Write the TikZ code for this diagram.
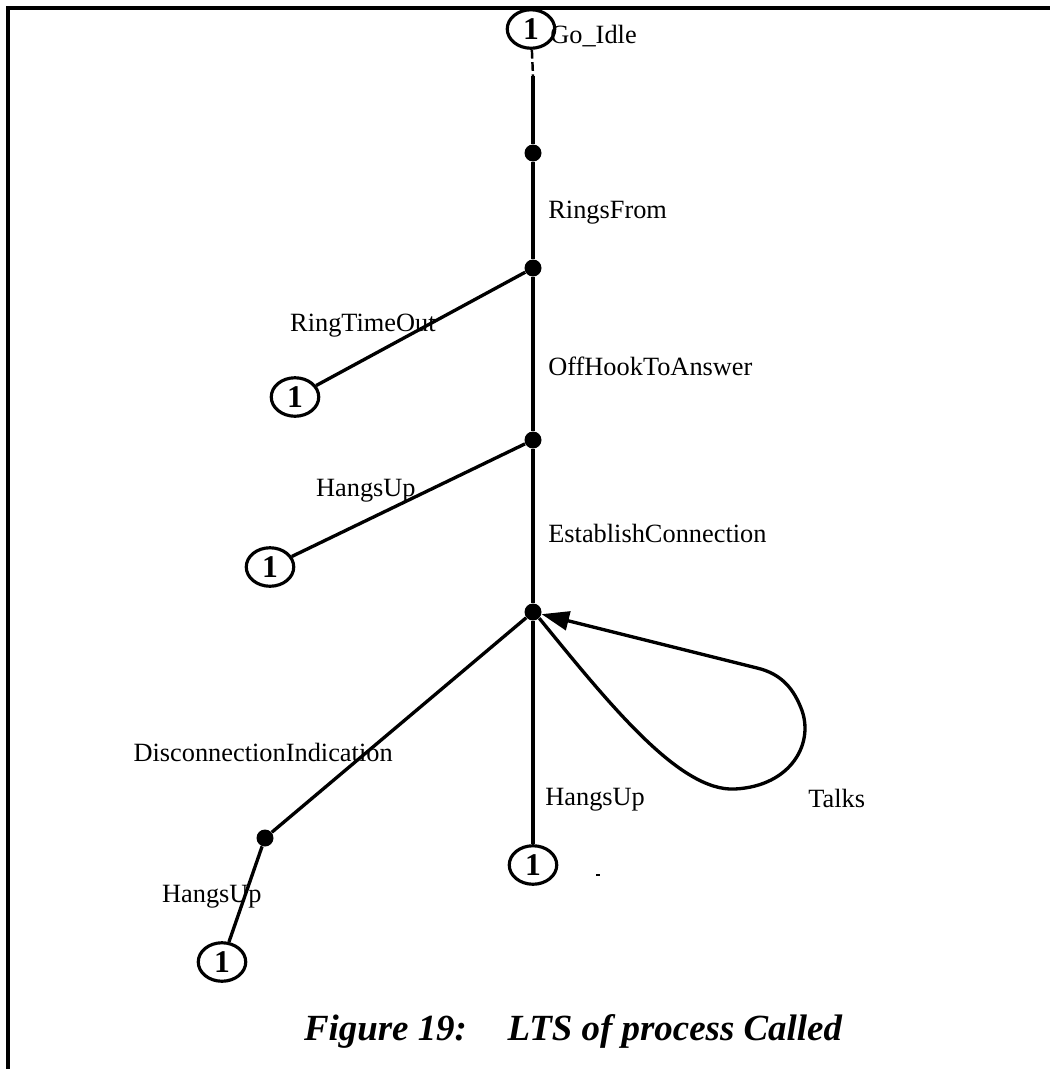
\documentclass[tikz,border=0pt]{standalone}
\usepackage{fontspec}
\setmainfont{Liberation Serif}
\usetikzlibrary{arrows.meta,shapes.geometric}
\begin{document}
\begin{tikzpicture}[x=0.02cm,y=-0.02cm,
  edge/.style={line width=1.9pt},
  state/.style={circle,fill=black,inner sep=0pt,minimum size=0.34cm},
  ref/.style={ellipse,draw,line width=1.8pt,minimum width=0.95cm,minimum height=0.77cm,inner sep=0pt,font=\fontsize{18}{18}\selectfont\bfseries},
  lbl/.style={font=\fontsize{15}{15}\selectfont,inner sep=0pt},
  frame/.style={line width=2.4pt}]
\useasboundingbox (0,0) rectangle (1050,1069);
\draw[frame] (8,1069) -- (8,8) -- (1050,8);
% main spine
\node[ref] (r0) at (531,29) {1};
\node[state] (s1) at (533,153) {};
\node[state] (s2) at (533,268) {};
\node[state] (s3) at (533,440) {};
\node[state] (s4) at (533,612) {};
\node[state] (s5) at (265,838) {};
\node[ref] (r1) at (295,397) {1};
\node[ref] (r2) at (270,567) {1};
\node[ref] (r3) at (533,865) {1};
\node[ref] (r4) at (222,962) {1};
\coordinate (gbreak) at (533,76);
\draw[edge,line width=1.4pt,dash pattern=on 5pt off 2pt] (r0) -- (gbreak);
\draw[edge] (gbreak) -- (s1);
\draw[edge] (s1) -- (s2);
\draw[edge] (s2) -- (s3);
\draw[edge] (s3) -- (s4);
\draw[edge] (s2) -- (r1);
\draw[edge] (s3) -- (r2);
\draw[edge] (s4) -- (s5);
\draw[edge] (s5) -- (r4);
\draw[edge] (s4) -- (r3);
\draw[edge,-{Triangle[length=0.55cm,width=0.38cm]}] (s4.south east) .. controls (610,705) and (680,792) .. (735,789) .. controls (792,786) and (815,742) .. (801,708) .. controls (792,685) and (778,673) .. (757,668) -- (s4);
% labels
\node[lbl,anchor=west] (l1) at (550,36) {Go\_Idle};
\node[lbl,anchor=west] (l2) at (548,213) {RingsFrom};
\node[lbl,anchor=east] (l3) at (436,326) {RingTimeOut};
\node[lbl,anchor=west] (l4) at (548,366) {OffHookToAnswer};
\node[lbl,anchor=east] (l5) at (416,491) {HangsUp};
\node[lbl,anchor=west] (l6) at (548,533) {EstablishConnection};
\node[lbl,anchor=east] (l7) at (393,752) {DisconnectionIndication};
\node[lbl,anchor=west] (l8) at (545,800) {HangsUp};
\node[lbl,anchor=west] (l9) at (808,798) {Talks};
\node[lbl,anchor=east] (l10) at (262,897) {HangsUp};
\node[fill=black,minimum width=0.08cm,minimum height=0.05cm,inner sep=0pt] (spk) at (598,875) {};
\node[font=\fontsize{21}{21}\selectfont\bfseries\itshape,inner sep=0pt] (cap) at (573,1031) {Figure 19:\hspace{1.1em}LTS of process Called};
\end{tikzpicture}
\end{document}
